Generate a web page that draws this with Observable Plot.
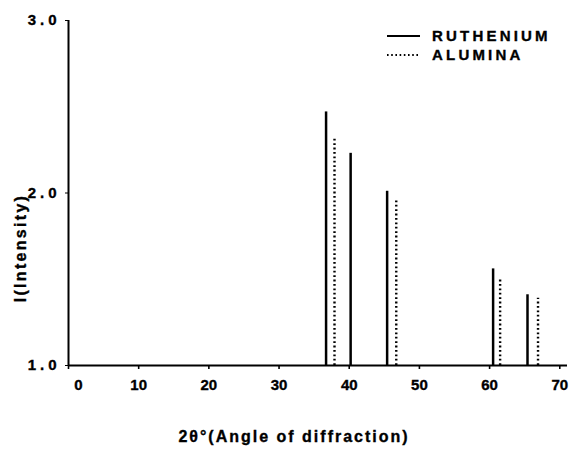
<!DOCTYPE html>
<html><head><meta charset="utf-8">
<script src="https://cdn.jsdelivr.net/npm/d3@7"></script>
<script src="https://cdn.jsdelivr.net/npm/@observablehq/plot@0.6"></script>
<style>
body{margin:0;background:#fff;}
#wrap{position:relative;width:576px;height:451px;font-family:"Liberation Sans",Arial,sans-serif;font-weight:bold;}
#wrap svg text{stroke:#000;stroke-width:0.35px;}
#legend{position:absolute;left:387px;top:26px;}
.row{display:flex;align-items:center;height:19px;}
.row span{margin-left:12px;font-size:15px;letter-spacing:3.2px;color:#000;-webkit-text-stroke:0.35px #000;}
</style></head><body><div id="wrap"></div>
<script>
// Series names
const seriesNames = ["RUTHENIUM", "ALUMINA"];
// Ruthenium peaks: 2θ and intensity
const ruAngle = [36.7, 40.2, 45.4, 60.5, 65.4];
const ruIntensity = [2.47, 2.23, 2.01, 1.56, 1.41];
// Alumina peaks
const alAngle = [37.9, 46.7, 61.5, 66.9];
const alIntensity = [2.32, 1.96, 1.50, 1.39];
// Ticks
const xTicks = [0, 10, 20, 30, 40, 50, 60, 70];
const yTicks = [1, 2, 3];
const xLabel = "2θ°(Angle of diffraction)";
const yLabel = "I(Intensity)";

const ru = ruAngle.map((a, i) => ({a, v: ruIntensity[i]}));
const al = alAngle.map((a, i) => ({a, v: alIntensity[i]}));
const font = '"Liberation Sans", Arial, sans-serif';

const plot = Plot.plot({
  width: 576, height: 451,
  marginLeft: 68, marginRight: 9, marginTop: 20, marginBottom: 86,
  style: {fontFamily: font, fontWeight: "bold", fontSize: "15px", background: "white", color: "black"},
  x: {domain: [0, 71.1]},
  y: {domain: [1, 3]},
  marks: [
    Plot.axisX({ticks: xTicks, tickSize: 4, tickPadding: 10, tickFormat: d => d === 0 ? "" : d, label: null, strokeWidth: 1.6}),
    Plot.text(xTicks.filter(d => d === 0), {x: d => d, frameAnchor: "bottom", lineAnchor: "top", dy: 14, dx: 10, text: d => String(d)}),
    Plot.axisY({ticks: yTicks, tickSize: 3, tickPadding: 5, tickFormat: d3.format(".1f"), label: null}),
    Plot.ruleY([1], {strokeWidth: 2}),
    Plot.ruleX([0], {strokeWidth: 2}),
    Plot.ruleX(ru, {x: "a", y1: 1, y2: "v", strokeWidth: 2.5}),
    Plot.ruleX(al, {x: "a", y1: 1, y2: "v", strokeWidth: 2.4, strokeDasharray: "1.8,2.6"}),
    Plot.text([yLabel], {frameAnchor: "left", textAnchor: "middle", lineAnchor: "middle", dx: -48, dy: 55, rotate: -90, text: d => d, fontSize: 16}),
    Plot.text([xLabel], {frameAnchor: "bottom", textAnchor: "middle", lineAnchor: "middle", dy: 71, dx: -24, text: d => d, fontSize: 16})
  ]
});

plot.querySelectorAll('[aria-label="y-axis tick label"] text').forEach(t => t.style.letterSpacing = "4px");
const texts = plot.querySelectorAll('[aria-label="text"]');
texts[1].querySelectorAll("text").forEach(t => t.style.letterSpacing = "2.3px");
texts[2].querySelectorAll("text").forEach(t => t.style.letterSpacing = "2.0px");

const wrap = document.getElementById("wrap");
wrap.appendChild(plot);

const legend = document.createElement("div");
legend.id = "legend";
const dashes = [null, "1.6,2.6"];
seriesNames.forEach((name, i) => {
  const row = document.createElement("div");
  row.className = "row";
  const svg = d3.create("svg").attr("width", 33).attr("height", 4);
  svg.append("line").attr("x1", 0).attr("x2", 33).attr("y1", 2).attr("y2", 2)
    .attr("stroke", "black").attr("stroke-width", i === 0 ? 2 : 1.8)
    .attr("stroke-dasharray", dashes[i]);
  row.appendChild(svg.node());
  const span = document.createElement("span");
  span.textContent = name;
  row.appendChild(span);
  legend.appendChild(row);
});
wrap.appendChild(legend);
</script>
</body></html>
